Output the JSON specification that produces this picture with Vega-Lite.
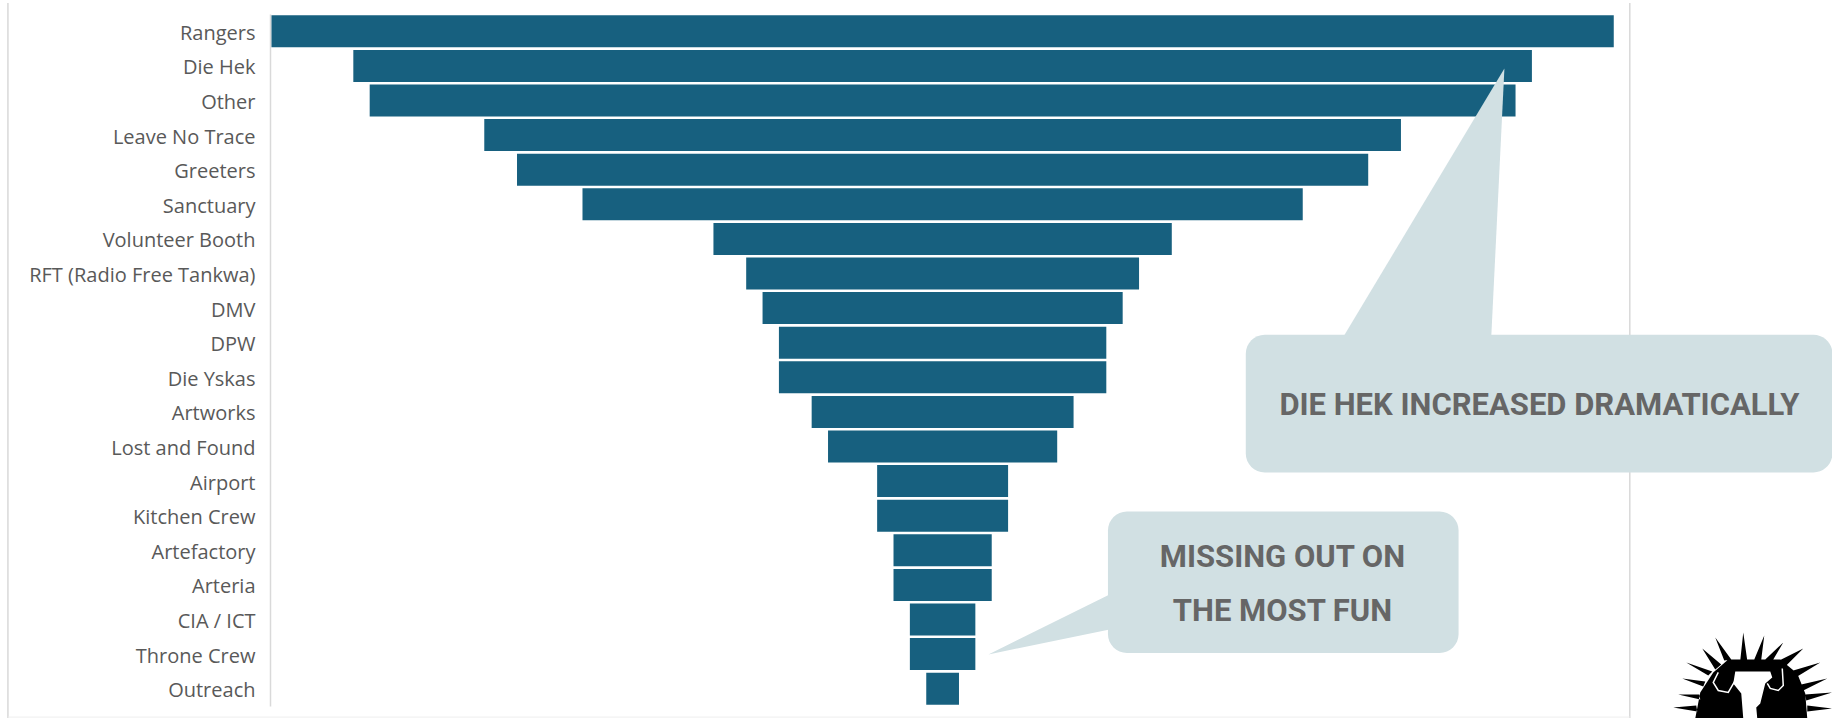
{
 "$schema":"https://vega.github.io/schema/vega-lite/v6.json",
 "width":1358,"height":692,
 "autosize":{"type":"none"},
 "padding":{"left":270,"top":14,"right":204,"bottom":12},
 "background":"#ffffff",
 "view":{"stroke":null},
 "datasets":{
  "teams":[
   {"team":"Rangers","count":41},{"team":"Die Hek","count":36},{"team":"Other","count":35},{"team":"Leave No Trace","count":28},{"team":"Greeters","count":26},{"team":"Sanctuary","count":22},{"team":"Volunteer Booth","count":14},{"team":"RFT (Radio Free Tankwa)","count":12},{"team":"DMV","count":11},{"team":"DPW","count":10},{"team":"Die Yskas","count":10},{"team":"Artworks","count":8},{"team":"Lost and Found","count":7},{"team":"Airport","count":4},{"team":"Kitchen Crew","count":4},{"team":"Artefactory","count":3},{"team":"Arteria","count":3},{"team":"CIA / ICT","count":2},{"team":"Throne Crew","count":2},{"team":"Outreach","count":1}
  ],
  "frame":[{"a":-8.05,"b":-0.32,"b2":20.36},{"a":41.49,"b":-0.32,"b2":20.36}],
  "base":[{"a":-8.05,"a2":41.49,"b":20.32}],
  "boxes":[{"a":29.76,"a2":47.68,"b":9.27,"b2":13.25},{"a":25.55,"a2":36.26,"b":14.38,"b2":18.47}],
  "tail1":[{"a":37.66,"a2":37.66,"b":1.575},{"a":32.76,"a2":37.26,"b":9.3}],
  "tail2":[{"a":21.9,"b":18.51,"b2":18.51},{"a":25.6,"b":16.78,"b2":17.79}],
  "notes":[{"a":38.73,"b":11.32,"t":"DIE HEK INCREASED DRAMATICALLY"},{"a":30.88,"b":15.73,"t":"MISSING OUT ON"},{"a":30.88,"b":17.28,"t":"THE MOST FUN"}],
  "logo":[{"a":45.2,"b":20.36}]
 },
 "resolve":{"scale":{"y":"independent"}},
 "layer":[
  {"data":{"name":"teams"},"mark":{"type":"bar","color":"#17607f"},
   "encoding":{
    "y":{"field":"team","type":"nominal","sort":null,"scale":{"paddingInner":0.075,"paddingOuter":0.0375},
     "axis":{"title":null,"ticks":false,"grid":false,"domainColor":"#d9d9d9","domainWidth":1.5,"labelFont":"Open Sans","labelFontSize":20,"labelColor":"#595959","labelPadding":15,"labelLimit":300,"labelOffset":2.5}},
    "x":{"field":"count","type":"quantitative","stack":"center","scale":{"domain":[-0.045,41.435],"nice":false,"zero":false},"axis":null}
   }},
  {"layer":[
   {"data":{"name":"frame"},"mark":{"type":"rule","color":"#d9d9d9","strokeWidth":1.5},
    "encoding":{"x":{"field":"a","type":"quantitative"},"y":{"field":"b","type":"quantitative","scale":{"domain":[0,20],"reverse":true,"nice":false,"zero":false},"axis":null},"y2":{"field":"b2"}}},
   {"data":{"name":"base"},"mark":{"type":"rule","color":"#eeeeee","strokeWidth":1},
    "encoding":{"x":{"field":"a","type":"quantitative"},"x2":{"field":"a2"},"y":{"field":"b","type":"quantitative"}}},
   {"data":{"name":"boxes"},"mark":{"type":"rect","color":"#d1e0e3","cornerRadius":19},
    "encoding":{"x":{"field":"a","type":"quantitative"},"x2":{"field":"a2"},"y":{"field":"b","type":"quantitative"},"y2":{"field":"b2"}}},
   {"data":{"name":"tail1"},"mark":{"type":"area","orient":"horizontal","color":"#d1e0e3"},
    "encoding":{"y":{"field":"b","type":"quantitative"},"x":{"field":"a","type":"quantitative"},"x2":{"field":"a2"}}},
   {"data":{"name":"tail2"},"mark":{"type":"area","orient":"vertical","color":"#d1e0e3"},
    "encoding":{"x":{"field":"a","type":"quantitative"},"y":{"field":"b","type":"quantitative"},"y2":{"field":"b2"}}},
   {"data":{"name":"notes"},"mark":{"type":"text","font":"Roboto","fontWeight":"bold","fontSize":31,"color":"#666666","align":"center","baseline":"middle"},
    "encoding":{"x":{"field":"a","type":"quantitative"},"y":{"field":"b","type":"quantitative"},"text":{"field":"t"}}},
   {"data":{"name":"logo"},"mark":{"type":"point","filled":true,"opacity":1,"size":4,"color":"#000000","shape":"M-56 0L-51 -26L-38 -46L-23 -59L29 -59L46 -45L54 -25L56 0Z M-11 -58L-8 -86L-4 -58Z M3 -59L13 -83L10 -59Z M14 -59L32 -76L22 -59Z M28 -58L52 -70L34 -52Z M42 -48L69 -56L46 -42Z M50 -34L76 -40L52 -28Z M54 -24L81 -26L55 -18Z M56 -13L81 -10L56 -7Z M-27 -58L-36 -81L-20 -59Z M-36 -49L-49 -70L-30 -54Z M-43 -43L-65 -56L-39 -47Z M-48 -32L-69 -40L-46 -37Z M-52 -24L-73 -24L-51 -19Z M-55 -13L-78 -11L-54 -7Z"},
    "encoding":{"x":{"field":"a","type":"quantitative"},"y":{"field":"b","type":"quantitative"}}},
   {"data":{"name":"logo"},"mark":{"type":"point","filled":true,"opacity":1,"size":4,"color":"#ffffff","shape":"M-16 -47L19 -47L21 -41L14 -35L9 -15L5 -11L6 0L-8 0L-10 -25L-18 -35Z"},
    "encoding":{"x":{"field":"a","type":"quantitative"},"y":{"field":"b","type":"quantitative"}}},
   {"data":{"name":"logo"},"mark":{"type":"point","filled":false,"opacity":1,"size":4,"color":"#ffffff","strokeWidth":1.5,"shape":"M-33 -46L-38 -36L-33 -28L-23 -26L-16 -38 M31 -50L32 -33L27 -28L19 -30L16 -35"},
    "encoding":{"x":{"field":"a","type":"quantitative"},"y":{"field":"b","type":"quantitative"}}}
  ]}
 ]
}
